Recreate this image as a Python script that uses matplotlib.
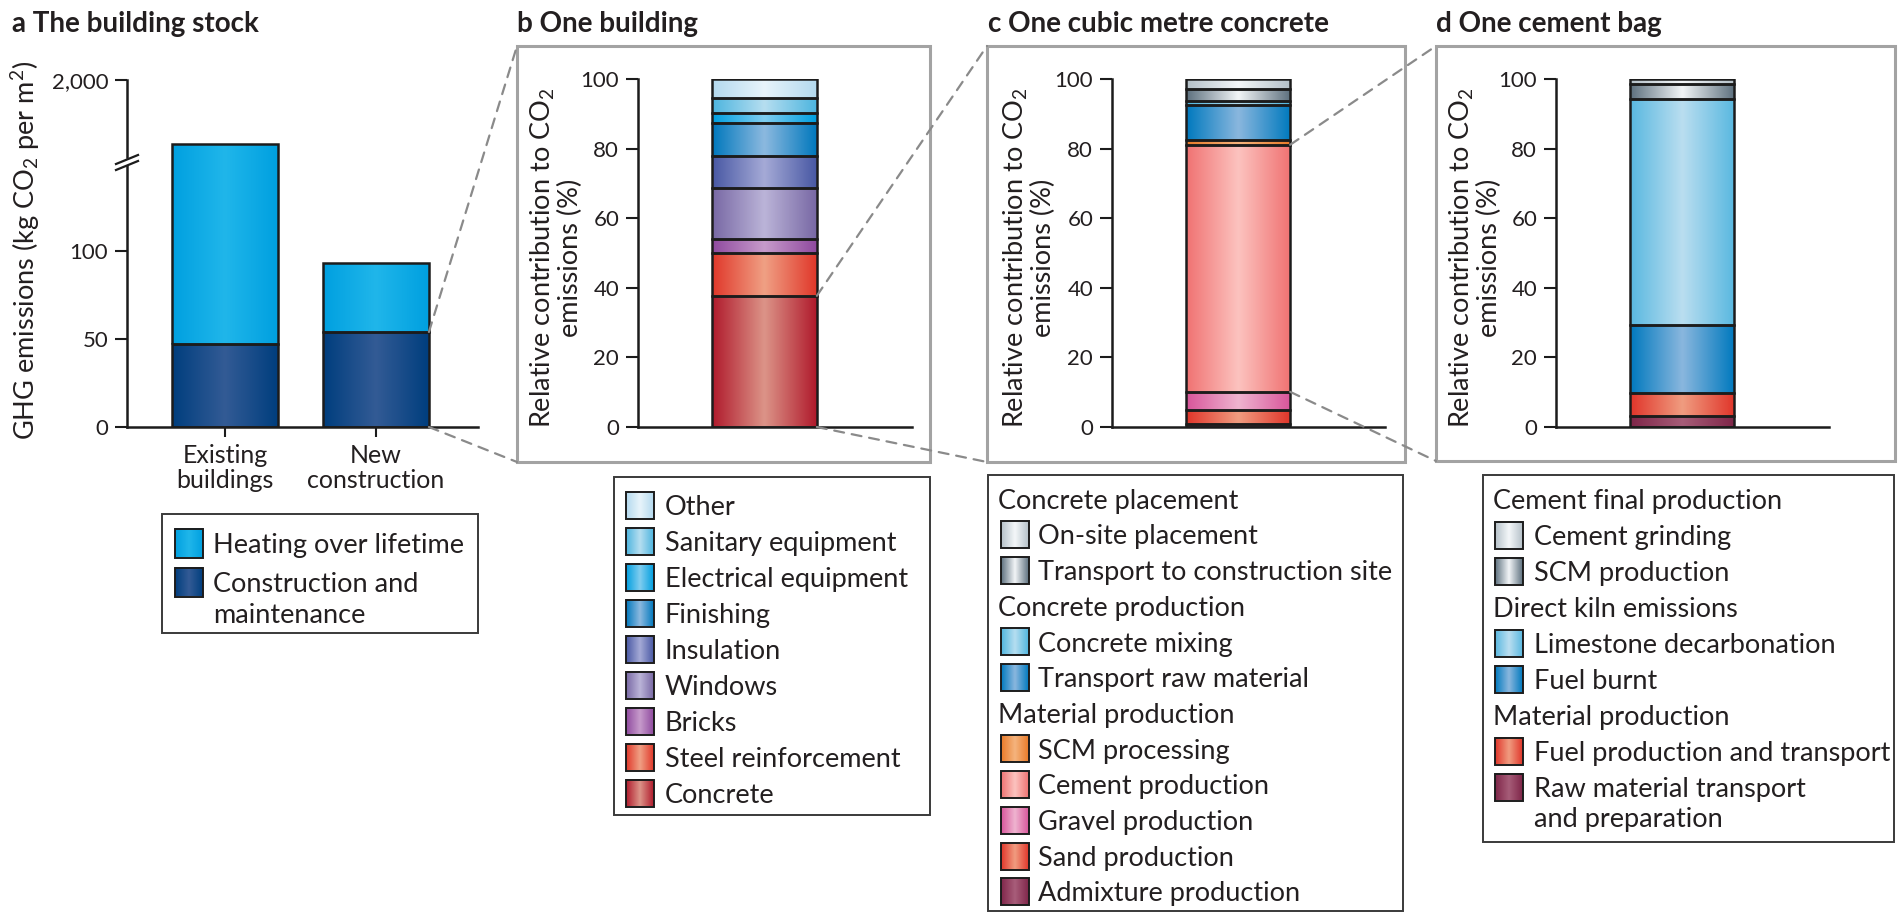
import numpy as np
import matplotlib
matplotlib.use("Agg")
import matplotlib.pyplot as plt
from matplotlib.patches import Rectangle, ConnectionPatch
from matplotlib.lines import Line2D
from matplotlib.colors import to_rgb

# ---------------- data ----------------
a_categories = ["Existing\nbuildings", "New\nconstruction"]
a_construction = [47, 54]
a_heating = [1553, 39]
a_series = ["Heating over lifetime", "Construction and\nmaintenance"]

b_labels = ["Concrete", "Steel reinforcement", "Bricks", "Windows", "Insulation",
            "Finishing", "Electrical equipment", "Sanitary equipment", "Other"]
b_values = [37.7, 12.4, 3.8, 14.9, 9.1, 9.6, 2.6, 4.4, 5.5]

c_labels = ["Admixture production", "Sand production", "Gravel production",
            "Cement production", "SCM processing", "Transport raw material",
            "Concrete mixing", "Transport to construction site", "On-site placement"]
c_values = [1.0, 3.8, 5.3, 71.0, 1.4, 10.0, 1.2, 3.3, 3.0]
c_groups = [("Concrete placement", ["On-site placement", "Transport to construction site"]),
            ("Concrete production", ["Concrete mixing", "Transport raw material"]),
            ("Material production", ["SCM processing", "Cement production",
                                     "Gravel production", "Sand production",
                                     "Admixture production"])]

d_labels = ["Raw material transport\nand preparation", "Fuel production and transport",
            "Fuel burnt", "Limestone decarbonation", "SCM production", "Cement grinding"]
d_values = [3.1, 6.8, 19.5, 64.8, 4.5, 1.3]
d_groups = [("Cement final production", ["Cement grinding", "SCM production"]),
            ("Direct kiln emissions", ["Limestone decarbonation", "Fuel burnt"]),
            ("Material production", ["Fuel production and transport",
                                     "Raw material transport\nand preparation"])]

# (edge colour, centre colour) of the horizontal gradient
COL = {
    "Heating over lifetime": ("#00a0e0", "#20b6ea"),
    "Construction and\nmaintenance": ("#003e7e", "#335b95"),
    "Concrete": ("#b01a2c", "#dc9488"),
    "Steel reinforcement": ("#e0372a", "#f0a084"),
    "Bricks": ("#8f4a9f", "#c79bcb"),
    "Windows": ("#7868a4", "#bbb4d8"),
    "Insulation": ("#4858a4", "#a5aad6"),
    "Finishing": ("#0078bd", "#8cb9df"),
    "Electrical equipment": ("#009fe0", "#80cdef"),
    "Sanitary equipment": ("#4db5df", "#b6def0"),
    "Other": ("#b3d9ee", "#e8f4fb"),
    "Admixture production": ("#80264a", "#a85e7a"),
    "Sand production": ("#e0352a", "#f09c80"),
    "Gravel production": ("#d8559a", "#efb4d0"),
    "Cement production": ("#f07272", "#fcc3bf"),
    "SCM processing": ("#e87a28", "#f5b47e"),
    "Transport raw material": ("#0079be", "#8ab7de"),
    "Concrete mixing": ("#4fb6df", "#b6def0"),
    "Transport to construction site": ("#5d707e", "#f2f5f7"),
    "On-site placement": ("#b4c0c8", "#f4f7f9"),
    "Raw material transport\nand preparation": ("#7e2548", "#a65d78"),
    "Fuel production and transport": ("#e0352a", "#f09c80"),
    "Fuel burnt": ("#0079be", "#8ab7de"),
    "Limestone decarbonation": ("#59b8e0", "#badef0"),
    "SCM production": ("#5d707e", "#f2f5f7"),
    "Cement grinding": ("#b4c0c8", "#f4f7f9"),
}

# ---------------- style ----------------
plt.rcParams["font.family"] = ["Lato", "DejaVu Sans"]
plt.rcParams["mathtext.fontset"] = "custom"
plt.rcParams["mathtext.rm"] = "Lato"
plt.rcParams["mathtext.it"] = "Lato:italic"
plt.rcParams["mathtext.bf"] = "Lato:bold"
TXT = "#231f20"
EDGE = "#1c1c1c"
GREY = "#a3a3a3"
DASH = "#8a8a8a"
FS_TICK = 16
FS_XTICK = 18
FS_LAB = 19.5
FS_LEG = 19.5
FS_TITLE = 20

W, H = 1898, 915
fig = plt.figure(figsize=(W / 100, H / 100), dpi=100)
fig.patch.set_facecolor("white")


def axes_px(x0, y0, x1, y1):
    ax = fig.add_axes([x0 / W, 1 - y1 / H, (x1 - x0) / W, (y1 - y0) / H])
    ax.set_facecolor("none")
    return ax


def grad(edge, center, n=120):
    u = np.linspace(0, 1, n)
    t = 1 - np.abs(2 * u - 1)
    e, c = np.array(to_rgb(edge)), np.array(to_rgb(center))
    rgb = (1 - t)[:, None] * e + t[:, None] * c
    return rgb[None, :, :]


def fill_gradients(ax, bars, colors):
    for r, (e, c) in zip(bars.patches, colors):
        ax.imshow(grad(e, c), extent=[r.get_x(), r.get_x() + r.get_width(),
                                      r.get_y(), r.get_y() + r.get_height()],
                  aspect="auto", zorder=2, interpolation="bilinear")


def style_axis(ax, left=True, bottom=True):
    for s in ["top", "right"]:
        ax.spines[s].set_visible(False)
    ax.spines["left"].set_visible(left)
    ax.spines["bottom"].set_visible(bottom)
    for s in ["left", "bottom"]:
        ax.spines[s].set_linewidth(1.8)
        ax.spines[s].set_color(EDGE)
    ax.tick_params(axis="y", length=8.5, width=1.5, color=EDGE, labelsize=FS_TICK,
                   labelcolor=TXT, pad=5)


def stacked_panel(ax, values, labels):
    bottoms = np.concatenate([[0], np.cumsum(values)[:-1]])
    bars = ax.bar([0] * len(values), values, width=1.0, bottom=bottoms,
                  facecolor="none", edgecolor=EDGE, linewidth=1.8, zorder=3)
    fill_gradients(ax, bars, [COL[l] for l in labels])
    ax.set_xlim(-1.21, 1.41)
    ax.set_ylim(0, 100)
    ax.set_yticks(np.arange(0, 101, 20))
    ax.set_xticks([])
    style_axis(ax)
    return bars


# ---------------- panel a (broken axis) ----------------
xa = np.arange(len(a_categories))
wa = 0.70
ax_al = axes_px(127, 160, 478, 427)
ax_au = axes_px(127, 80, 478, 160)
for ax in (ax_al, ax_au):
    b1 = ax.bar(xa, a_construction, width=wa, facecolor="none", edgecolor=EDGE,
                linewidth=1.8, zorder=3)
    fill_gradients(ax, b1, [COL[a_series[1]]] * len(xa))
    b2 = ax.bar(xa, a_heating, width=wa, bottom=a_construction, facecolor="none",
                edgecolor=EDGE, linewidth=1.8, zorder=3)
    fill_gradients(ax, b2, [COL[a_series[0]]] * len(xa))
    ax.set_xlim(-0.649, 1.675)
lower_top = 151.7
ax_al.set_ylim(0, lower_top)
ax_au.set_ylim(1500, 2000)
style_axis(ax_al)
style_axis(ax_au, bottom=False)
ax_al.spines["left"].set_bounds(0, lower_top - 3.5)
ax_au.spines["left"].set_bounds(1520, 2000)
ax_al.set_yticks([0, 50, 100])
ax_au.set_yticks([2000])
ax_au.set_yticklabels(["2,000"])
ax_au.set_xticks([])
ax_al.set_xticks(xa)
ax_al.set_xticklabels(a_categories, fontsize=FS_XTICK, color=TXT, linespacing=1.1)
ax_al.tick_params(axis="x", length=7.5, width=1.5, color=EDGE, pad=5)

# ---------------- panels b, c, d ----------------
ax_b = axes_px(638, 79, 912, 427)
bars_b = stacked_panel(ax_b, b_values, b_labels)
ax_c = axes_px(1112, 79, 1385, 427)
bars_c = stacked_panel(ax_c, c_values, c_labels)
ax_d = axes_px(1556, 79, 1829, 427)
bars_d = stacked_panel(ax_d, d_values, d_labels)

# ---------------- overlay (pixel coordinates) ----------------
ov = fig.add_axes([0, 0, 1, 1], zorder=10)
ov.set_xlim(0, W)
ov.set_ylim(H, 0)
ov.set_autoscale_on(False)
ov.axis("off")

# titles
for x, t in [(12, "a The building stock"), (517, "b One building"),
             (988, "c One cubic metre concrete"), (1436, "d One cement bag")]:
    ov.text(x, 32, t, fontsize=FS_TITLE, fontweight="bold", color=TXT, va="baseline")

# y labels
ov.text(26, 250, "GHG emissions (kg CO$_2$ per m$^2$)", rotation=90, fontsize=FS_LAB,
        color=TXT, ha="center", va="center")
for xc in (556, 1029, 1475):
    ov.text(xc, 258, "Relative contribution to CO$_2$\nemissions (%)", rotation=90,
            fontsize=FS_LAB, color=TXT, ha="center", va="center",
            multialignment="center", linespacing=1.08)

# axis break marks
for dy in (0, 6):
    ov.add_line(Line2D([116, 138], [164 + dy, 155 + dy], color=EDGE, lw=1.6))

# grey panel boxes
boxes = {"b": (517, 46, 930, 462), "c": (987, 46, 1405, 462), "d": (1436, 46, 1895, 461)}
for (x0, y0, x1, y1) in boxes.values():
    ov.add_patch(Rectangle((x0, y0), x1 - x0, y1 - y0, fill=False, edgecolor=GREY, lw=2.2))


def connect(ax, xy, pxy):
    cp = ConnectionPatch(xyA=xy, coordsA=ax.transData, xyB=pxy, coordsB=ov.transData,
                         color=DASH, lw=1.6, linestyle=(0, (4.5, 3.5)), zorder=20)
    fig.add_artist(cp)


# dashed zoom lines
new_r = xa[1] + wa / 2
connect(ax_al, (new_r, a_construction[1]), (boxes["b"][0], boxes["b"][1]))
connect(ax_al, (new_r, 0), (boxes["b"][0], boxes["b"][3]))
cb = np.cumsum(b_values)
connect(ax_b, (0.5, cb[0]), (boxes["c"][0], boxes["c"][1]))
connect(ax_b, (0.5, 0), (boxes["c"][0], boxes["c"][3]))
cc = np.cumsum(c_values)
i_cem = c_labels.index("Cement production")
connect(ax_c, (0.5, cc[i_cem]), (boxes["d"][0], boxes["d"][1]))
connect(ax_c, (0.5, cc[i_cem] - c_values[i_cem]), (boxes["d"][0], boxes["d"][3]))

CAP_HALF = 0.72 * FS_LEG * 100 / 72 / 2


# legends
def swatch(x, yc, label, w=28, h=27):
    e, c = COL[label]
    ov.imshow(grad(e, c), extent=[x, x + w, yc + h / 2, yc - h / 2], aspect="auto",
              zorder=2, interpolation="bilinear")
    ov.add_patch(Rectangle((x, yc - h / 2), w, h, fill=False, edgecolor=EDGE, lw=1.4, zorder=3))


def text_lines(x, yc, label, step):
    for k, line in enumerate(label.split("\n")):
        ov.text(x, yc + CAP_HALF + k * step, line, fontsize=FS_LEG, color=TXT, va="baseline")


def legend_box(x0, y0, x1, y1):
    ov.add_patch(Rectangle((x0, y0), x1 - x0, y1 - y0, fill=False, edgecolor="#3a3a3a", lw=1.4))


# legend a
legend_box(162, 514, 478, 633)
y = 543
for lab in a_series:
    swatch(175, y, lab, w=28, h=29)
    text_lines(213, y, lab, 31)
    y += 39

# legend b
legend_box(614, 477, 930, 815)
y = 505
for lab in b_labels[::-1]:
    swatch(626, y, lab)
    text_lines(665, y, lab, 30)
    y += 36

# legend c
legend_box(988, 475, 1403, 911)
y = 499
for head, items in c_groups:
    text_lines(998, y, head, 30)
    y += 35.7
    for lab in items:
        swatch(1001, y, lab)
        text_lines(1038, y, lab, 30)
        y += 35.7

# legend d
legend_box(1483, 475, 1894, 842)
y = 499
for head, items in d_groups:
    text_lines(1493, y, head, 30)
    y += 36
    for lab in items:
        swatch(1495, y, lab)
        text_lines(1534, y, lab, 30)
        y += 36

fig.savefig("out.png", dpi=100, facecolor="white")
